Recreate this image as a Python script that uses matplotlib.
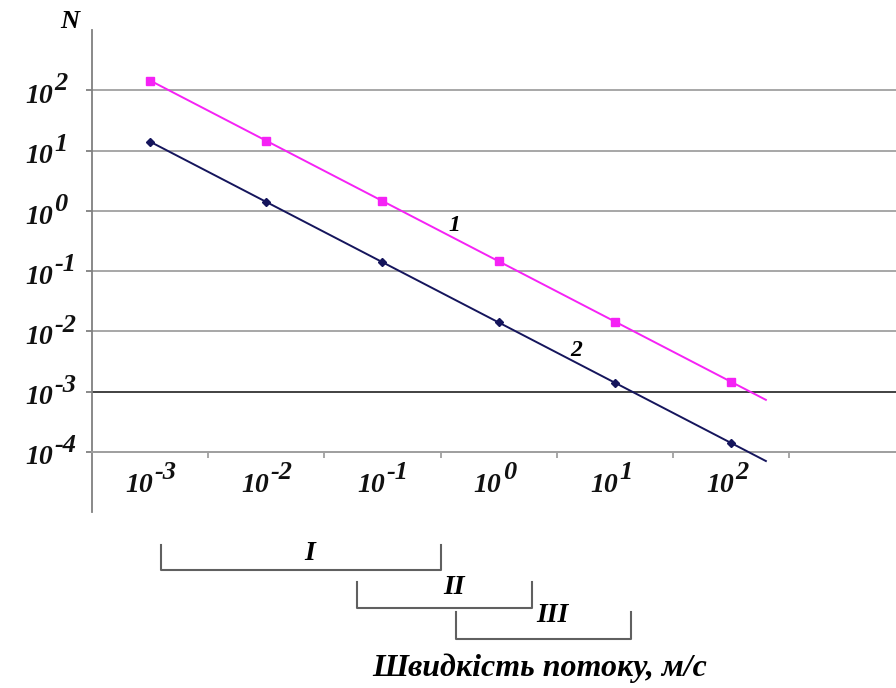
import matplotlib as mpl
import matplotlib.pyplot as plt
import matplotlib.transforms as mtransforms
import numpy as np

# flow speed categories (exponents of 10, m/s)
speed_exp = ["-3", "-2", "-1", "0", "1", "2"]
# curve 1 (magenta) and curve 2 (navy), N values
n_curve1 = [145, 14.5, 1.45, 0.145, 0.0145, 0.00145]
n_curve2 = [14, 1.4, 0.14, 0.014, 0.0014, 0.00014]
# y tick exponents
n_exp = [2, 1, 0, -1, -2, -3, -4]
# flow regimes with their span on the speed axis (in category units)
regimes = ["I", "II", "III"]
regime_from = [0.09, 1.78, 2.63]
regime_to = [2.5, 3.29, 4.14]

mpl.rcParams["font.family"] = "Liberation Serif"
mpl.rcParams["font.weight"] = "bold"
mpl.rcParams["font.style"] = "italic"

W, H = 896, 688
fig = plt.figure(figsize=(W / 100, H / 100), dpi=100)
ax = fig.add_axes([92 / W, 176 / H, 804 / W, 482 / H])
ax.set_yscale("log")
ax.set_ylim(1e-5, 1e3)
ax.set_xlim(-0.5, 6.42)

grid_col = "#a0a0a0"
for k in n_exp:
    col = "#333333" if k == -3 else grid_col
    ax.axhline(10.0 ** k, color=col, lw=1.3, zorder=1)

for s in ["top", "right"]:
    ax.spines[s].set_visible(False)
ax.spines["left"].set_color("#808080")
ax.spines["left"].set_linewidth(1.3)
ax.spines["bottom"].set_position(("data", 1e-4))
ax.spines["bottom"].set_color(grid_col)
ax.spines["bottom"].set_linewidth(1.3)

ax.set_yticks([10.0 ** k for k in n_exp])
ax.yaxis.set_minor_locator(mpl.ticker.NullLocator())
ax.set_yticklabels([])
ax.set_xticks(np.arange(0.5, 6.5, 1.0))
ax.set_xticklabels([])
ax.tick_params(axis="y", length=4, width=1.3, color="#808080")
ax.tick_params(axis="x", length=4, width=1.3, color=grid_col)

x = np.arange(len(speed_exp))
styles = [(n_curve1, "#f522f5", "s", 6), (n_curve2, "#15155c", "D", 4.5)]
for vals, col, mk, ms in styles:
    vals = np.array(vals)
    ax.plot(x, vals, color=col, lw=1.4, marker=mk, ms=ms, zorder=3, clip_on=False)
    # trend continued a bit past the last point
    slope, icpt = np.polyfit(x, np.log10(vals), 1)
    xe = np.array([x[-1], x[-1] + 0.3])
    ax.plot(xe, 10 ** (icpt + slope * xe), color=col, lw=1.4, zorder=3)

lab_kw = dict(fontweight="bold", fontstyle="italic", color="#111111")


def power_label(xy, xycoords, dx, dy, exp):
    base = ax.annotate("10", xy=xy, xycoords=xycoords, xytext=(dx, dy),
                       textcoords="offset points", ha="right", va="center",
                       fontsize=20, annotation_clip=False, **lab_kw)
    ax.annotate(exp, xy=(1, 0.5), xycoords=base, xytext=(1, 9),
                textcoords="offset points", ha="left", va="center",
                fontsize=19, annotation_clip=False, **lab_kw)


ytrans = mtransforms.blended_transform_factory(ax.transAxes, ax.transData)
for k in n_exp:
    power_label((0, 10.0 ** k), ytrans, -28, -4.5, str(k))

for i, e in enumerate(speed_exp):
    power_label((i, 1e-4), "data", 2, -24, e)

ax.text(2.62, 0.57, "1", fontsize=17, ha="center", va="center")
ax.text(3.67, 0.0048, "2", fontsize=17, ha="center", va="center")

# regime brackets below the axis
btrans = mtransforms.blended_transform_factory(ax.transData, fig.transFigure)
tops = [545, 582, 612]
bots = [570, 608, 639]
lab_y = [554, 587, 616]
for name, a, b, t, bt, ly in zip(regimes, regime_from, regime_to, tops, bots, lab_y):
    yt, yb = (H - t) / H, (H - bt) / H
    ax.plot([a, a, b, b], [yt, yb, yb, yt], transform=btrans, color="#606060",
            lw=1.5, clip_on=False)
    ax.text((a + b) / 2 + 0.08, (H - ly) / H, name, transform=btrans,
            fontsize=20, ha="center", va="center")

fig.text(540 / W, (H - 668) / H, "Швидкість потоку, м/с", fontsize=23,
         ha="center", va="center")
fig.text(70 / W, (H - 22) / H, "N", fontsize=19, ha="center", va="center")

fig.savefig("out.png", dpi=100)
